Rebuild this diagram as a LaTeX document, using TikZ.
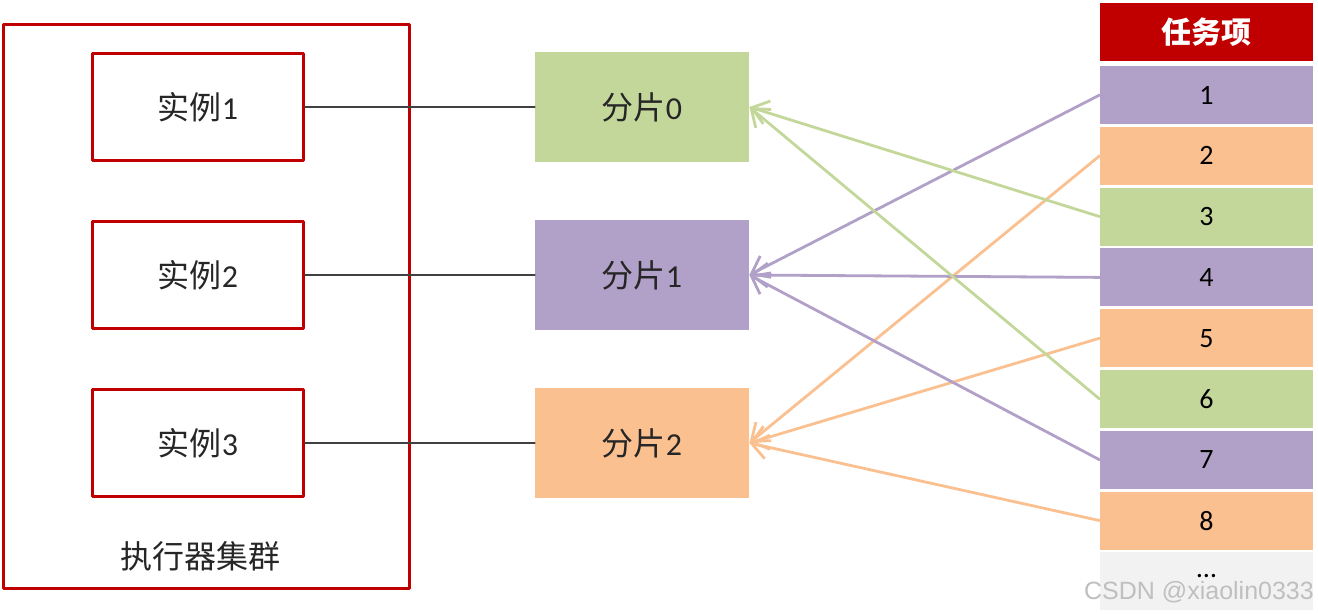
\documentclass[tikz,border=0pt]{standalone}
\usepackage{fontspec}
\setmainfont{Carlito}
\newfontfamily\cjk{Noto Sans CJK SC}
\newfontfamily\wmfont{Liberation Sans}
\usetikzlibrary{arrows.meta}
\definecolor{cqqqqq}{rgb}{0.753,0.,0.}
\definecolor{cudxzb}{rgb}{0.769,0.843,0.608}
\definecolor{braqcx}{rgb}{0.694,0.627,0.780}
\definecolor{facqzq}{rgb}{0.980,0.753,0.565}
\definecolor{fsfsfs}{rgb}{0.949,0.949,0.949}
\definecolor{uququq}{rgb}{0.25,0.25,0.25}
\definecolor{swswsw}{rgb}{0.149,0.149,0.149}

\begin{document}
\begin{tikzpicture}[line cap=round,line join=round,>={Straight Barb[length=8pt,width=12pt]},x=0.5pt,y=-0.5pt,
  inst/.style={draw=cqqqqq,line width=1.5pt,minimum width=105.5pt,minimum height=53.5pt,text=swswsw,font=\fontsize{16}{19}\selectfont},
  shard/.style={minimum width=107pt,minimum height=55pt,text=swswsw,font=\fontsize{16}{19}\selectfont},
  item/.style={minimum width=106.5pt,minimum height=29pt,font=\fontsize{14}{16}\selectfont}]
\useasboundingbox (0,0) rectangle (1318,614);
% executor cluster
\node [draw=cqqqqq,line width=1.5pt,minimum width=203pt,minimum height=282pt] (cluster) at (206.5,306.5) {};
\node [text=swswsw,font=\cjk\fontsize{16}{19}\selectfont] (clabel) at (200,556) {执行器集群};
\node [inst] (i1) at (198,107) {{\cjk 实例}1};
\node [inst] (i2) at (198,275) {{\cjk 实例}2};
\node [inst] (i3) at (198,443) {{\cjk 实例}3};
% shards
\node [shard,fill=cudxzb] (s0) at (642,107) {{\cjk 分片}0};
\node [shard,fill=braqcx] (s1) at (642,275) {{\cjk 分片}1};
\node [shard,fill=facqzq] (s2) at (642,443) {{\cjk 分片}2};
\foreach \a/\b in {1/0,2/1,3/2}
  \draw [uququq,line width=1.2pt] (i\a.east) -- (s\b.west);
% task items
\node [item,fill=cqqqqq,text=white,font=\cjk\bfseries\fontsize{15}{18}\selectfont] (head) at (1206.5,32) {任务项};
\foreach \n/\c/\s in {1/braqcx/1,2/facqzq/2,3/cudxzb/0,4/braqcx/1,5/facqzq/2,6/cudxzb/0,7/braqcx/1,8/facqzq/2}{
  \node [item,fill=\c] (t\n) at (1206.5,{95+(\n-1)*60.8}) {\n};
  \draw [->,\c,line width=1.4pt] (t\n.west) -- (s\s.east);
}
\node [item,fill=fsfsfs] (t9) at (1206.5,581) {};
\node [font=\fontsize{14}{16}\selectfont,inner sep=0pt] (dots) at (1206.5,576) {…};
\node [font=\wmfont\fontsize{12.5}{14}\selectfont,text=gray!50,inner sep=0pt] (wm) at (1199,592) {CSDN @xiaolin0333};
\end{tikzpicture}
\end{document}
